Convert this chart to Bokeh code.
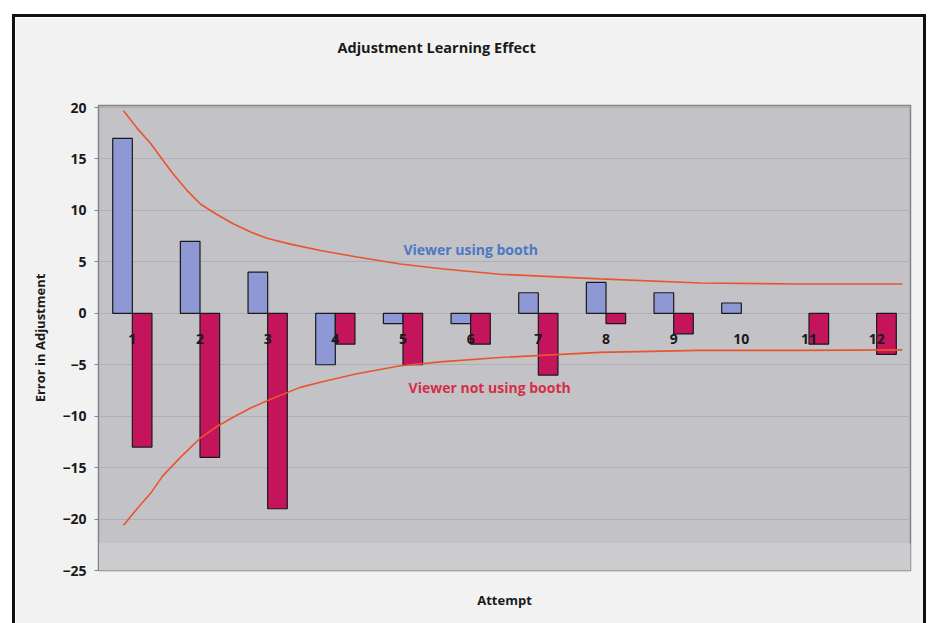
from bokeh.plotting import figure
from bokeh.models import (ColumnDataSource, FixedTicker, BoxAnnotation, Label, Range1d, Title,
                          CDSView, IndexFilter)
from bokeh.transform import dodge
from bokeh.core.properties import value
from bokeh.embed import file_html
from bokeh.resources import INLINE

# ---- data ----
attempts = [1, 2, 3, 4, 5, 6, 7, 8, 9, 10, 11, 12]
attempt_labels = ["1", "2", "3", "4", "5", "6", "7", "8", "9", "10", "11", "12"]
using_booth = [17, 7, 4, -5, -1, -1, 2, 3, 2, 1, 0, 0]
not_using_booth = [-13, -14, -19, -3, -5, -3, -6, -1, -2, 0, -3, -4]

# trend curves, points (x in attempt units)
upper_x = [0.87, 1.07, 1.27, 1.45, 1.61, 1.80, 2.01, 2.25, 2.49, 2.75, 2.99, 3.35, 3.78,
           4.30, 4.96, 5.60, 6.43, 7.91, 9.39, 10.86, 12.38]
upper_y = [19.7, 18.0, 16.5, 14.9, 13.5, 12.0, 10.6, 9.6, 8.7, 7.9, 7.3, 6.7, 6.1,
           5.5, 4.8, 4.3, 3.8, 3.35, 2.95, 2.85, 2.85]
lower_x = [0.87, 1.07, 1.27, 1.45, 1.71, 2.01, 2.25, 2.49, 2.75, 2.99, 3.48, 3.78,
           4.30, 4.96, 5.60, 6.43, 7.91, 9.39, 10.86, 12.38]
lower_y = [-20.6, -19.0, -17.5, -15.8, -14.0, -12.1, -11.0, -10.1, -9.2, -8.5, -7.2, -6.7,
           -5.9, -5.1, -4.7, -4.3, -3.8, -3.6, -3.6, -3.55]

y_ticks = [-25, -20, -15, -10, -5, 0, 5, 10, 15, 20]

TITLE = "Adjustment Learning Effect"
FONT = "Open Sans"
BLUE = "#8E98D4"
RED = "#C4145C"
TREND = "#E8552D"

src = ColumnDataSource(dict(x=attempts, lab=attempt_labels, a=using_booth, b=not_using_booth))
# bars of zero height are not drawn
view_a = CDSView(filter=IndexFilter([i for i, v in enumerate(using_booth) if v != 0]))
view_b = CDSView(filter=IndexFilter([i for i, v in enumerate(not_using_booth) if v != 0]))

p = figure(width=908, height=606, output_backend="svg", toolbar_location=None,
           x_range=Range1d(0.5, 12.5), y_range=Range1d(-25, 20.2),
           min_border_left=83, min_border_right=19, min_border_top=88, min_border_bottom=56)

# outer black frame of the chart (left, top and right edges)
p.styles = {"box-sizing": "content-box", "margin-left": "12px", "margin-top": "14px",
            "border-left": "3px solid #111111", "border-top": "3px solid #111111",
            "border-right": "3px solid #111111"}

p.background_fill_color = "#C3C2C7"
p.border_fill_color = "#F2F2F2"
p.outline_line_color = "#858585"
p.outline_line_width = 1.5

# empty spacer between the plot area and the title (nearest the frame)
p.add_layout(Title(text=" ", text_font_size="10px", standoff=36), "above")

# title
p.title.text = TITLE
p.title.align = "left"
p.title.offset = 239
p.title.standoff = 0
p.title.text_font = FONT
p.title.text_font_size = "14.5px"
p.title.text_font_style = "bold"
p.title.text_color = "#1A1A1A"

# y axis
p.yaxis.ticker = FixedTicker(ticks=y_ticks)
p.yaxis.axis_label = "Error in Adjustment"
p.yaxis.axis_label_text_font = FONT
p.yaxis.axis_label_text_font_size = "13px"
p.yaxis.axis_label_text_font_style = "bold"
p.yaxis.axis_label_text_color = "#1A1A1A"
p.yaxis.axis_label_standoff = 10
p.yaxis.major_label_text_font = FONT
p.yaxis.major_label_text_font_size = "14px"
p.yaxis.major_label_text_font_style = "bold"
p.yaxis.major_label_text_color = "#1A1A1A"
p.yaxis.major_label_standoff = 8
p.yaxis.axis_line_color = "#858585"
p.yaxis.major_tick_line_color = "#858585"
p.yaxis.major_tick_out = 4
p.yaxis.major_tick_in = 0
p.yaxis.minor_tick_line_color = None

# x axis: only its title
p.xaxis.ticker = FixedTicker(ticks=[])
p.xaxis.axis_line_color = None
p.xaxis.major_tick_line_color = None
p.xaxis.minor_tick_line_color = None
p.xaxis.major_tick_out = 0
p.xaxis.major_label_standoff = 0
p.xaxis.axis_label = "Attempt"
p.xaxis.axis_label_text_font = FONT
p.xaxis.axis_label_text_font_size = "13px"
p.xaxis.axis_label_text_font_style = "bold"
p.xaxis.axis_label_text_color = "#1A1A1A"
p.xaxis.axis_label_standoff = 20

# grid
p.xgrid.grid_line_color = None
p.ygrid.ticker = FixedTicker(ticks=y_ticks)
p.ygrid.grid_line_color = "#AFAEB4"
p.ygrid.grid_line_width = 1

# light floor band at the bottom of the plot area
p.add_layout(BoxAnnotation(bottom=-25, top=-22.4, fill_color="#CDCDCF", fill_alpha=1,
                           line_color="#E2E2E2", line_width=1, level="underlay"))

# bars
p.vbar(x=dodge("x", -0.145, range=p.x_range), top="a", bottom=0, width=0.29, source=src,
       view=view_a, fill_color=BLUE, line_color="#1A1A1A", line_width=1.2)
p.vbar(x=dodge("x", 0.145, range=p.x_range), top="b", bottom=0, width=0.29, source=src,
       view=view_b, fill_color=RED, line_color="#1A1A1A", line_width=1.2)

# trend curves
p.line(upper_x, upper_y, line_color=TREND, line_width=1.6)
p.line(lower_x, lower_y, line_color=TREND, line_width=1.6)

# category labels sitting below the zero line
p.text(x="x", y=-2.45, text="lab", source=src, text_font=value(FONT), text_font_size="14px",
       text_font_style="bold", text_color="#1A1A1A", text_align="center", text_baseline="middle")

# series annotations
p.add_layout(Label(x=6.0, y=6.2, text="Viewer using booth", text_font=FONT, text_font_size="14px",
                   text_font_style="bold", text_color="#4C78C4", text_align="center",
                   text_baseline="middle"))
p.add_layout(Label(x=6.28, y=-7.25, text="Viewer not using booth", text_font=FONT,
                   text_font_size="14px", text_font_style="bold", text_color="#D42E48",
                   text_align="center", text_baseline="middle"))

open("out.html", "w").write(file_html(p, INLINE))
